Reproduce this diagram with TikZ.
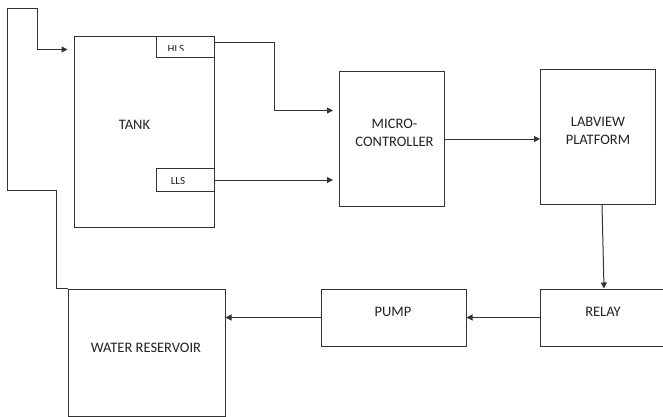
\documentclass[tikz,border=0pt]{standalone}
\usepackage{fontspec}
\setmainfont{Carlito}
\usepackage{xcolor}
\usepackage{tikz}
\usetikzlibrary{calc,arrows.meta}
\definecolor{linex}{HTML}{333333}
\definecolor{textx}{HTML}{222222}
\tikzset{
  ar/.style={-{Triangle[length=6pt,width=6pt]},line width=1pt,linex},
  box/.style={draw=linex,line width=1pt,rectangle,inner sep=0pt},
  txt/.style={font=\fontsize{14.5}{18}\selectfont,textx,align=center,inner sep=0pt},
  stxt/.style={font=\fontsize{11}{13}\selectfont,textx,inner sep=0pt}
}
\begin{document}
\begin{tikzpicture}[x=1pt,y=-1pt]
\useasboundingbox (0,0) rectangle (663,417);
\clip (0,0) rectangle (663,417);
% blocks
\node[box,minimum width=140,minimum height=190] (tank) at (144,132) {};
\node[box,minimum width=58,minimum height=21] (hls) at (185,47.5) {};
\node[box,minimum width=58,minimum height=23] (lls) at (185,180) {};
\node[box,minimum width=105,minimum height=134] (mc) at (392,139) {};
\node[box,minimum width=115,minimum height=135] (lab) at (598,137) {};
\node[box,minimum width=140,minimum height=57] (relay) at (610,317.5) {};
\node[box,minimum width=145,minimum height=57] (pump) at (393.5,317.5) {};
\node[box,minimum width=157,minimum height=127] (res) at (146.5,352.5) {};
% labels
\node[txt] (tankt) at (134.5,125) {TANK};
\begin{scope}
\clip (156,37) rectangle (214,51);
\node[stxt] (hlst) at (176,49) {HLS};
\end{scope}
\node[stxt] (llst) at (178,180.5) {LLS};
\node[txt] (mct) at (394.5,132.5) {MICRO-\\CONTROLLER};
\node[txt] (labt) at (598,131) {LABVIEW\\PLATFORM};
\node[txt] (relayt) at (603,311.5) {RELAY};
\node[txt] (pumpt) at (393,311.5) {PUMP};
\node[txt] (rest) at (146,347.5) {WATER RESERVOIR};
% connections
\draw[ar,shorten >=6pt] (res.north west) -- ++(-11,0) -- ++(0,-98) -- ++(-49,0)
  -- ++(0,-182) -- ++(30,0) -- ++(0,41) -- ($(tank.north west)+(0,13)$);
\draw[ar,shorten >=6pt] ($(hls.north east)+(0,6)$) -- ++(60,0) |- ($(mc.north west)+(0,39)$);
\draw[ar,shorten >=6pt] (lls.east) -- (lls.east -| mc.west);
\draw[ar] (mc.east) -- (mc.east -| lab.west);
\draw[ar] ([xshift=4pt]lab.south) -- ([xshift=6pt]lab.south |- relay.north);
\draw[ar] (relay.west) -- (pump.east);
\draw[ar] (pump.west) -- (pump.west -| res.east);
\end{tikzpicture}
\end{document}
